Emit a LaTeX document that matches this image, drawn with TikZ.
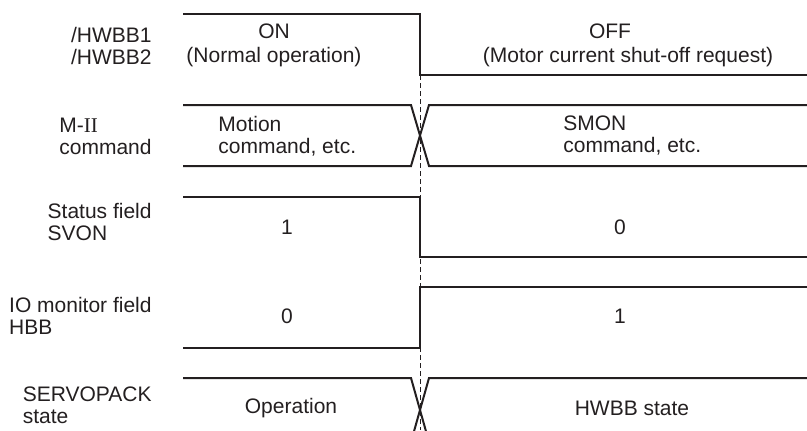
\documentclass[tikz,border=0pt]{standalone}
\usepackage{fontspec}
\setmainfont{Liberation Sans}
\newfontfamily\romanfont{Liberation Serif}
\definecolor{ink}{HTML}{231F20}

\begin{document}
\begin{tikzpicture}[
    x=0.5pt, y=-0.5pt,
    sig/.style={draw=ink, line width=1pt, line join=miter},
    guide/.style={draw=ink, line width=0.5pt, dash pattern=on 2.5pt off 1.5pt},
    siglabel/.style={anchor=east, align=left, inner sep=0pt, text=ink, font=\fontsize{10.5}{11}\selectfont},
    sigtext/.style={inner sep=0pt, text=ink, font=\fontsize{10.5}{11}\selectfont}
]
\useasboundingbox (0,0) rectangle (807,430);
\clip (0,0) rectangle (807,430);

% Transition guide
\coordinate (gtop) at (420,75);
\coordinate (gbot) at (420,430);
\draw[guide] (gtop) -- (gbot);

% /HWBB1 /HWBB2
\node[siglabel] (hwbb) at (152,46) {/HWBB1\\/HWBB2};
\draw[sig] (183,14) -- (420,14) -- (420,75) -- (807,75);
\node[sigtext, align=center] (on) at (274,45) {ON\\[1pt](Normal operation)};
\node[sigtext] (off) at (610,31) {OFF};
\node[sigtext] (offreq) at (628,57) {(Motor current shut-off request)};

% M-II command
\node[siglabel] (cmd) at (152,136) {M-{\romanfont II}\\command};
\draw[sig] (183,105) -- (411,105) -- (429,166) -- (807,166);
\draw[sig] (183,166) -- (411,166) -- (429,105) -- (807,105);
\node[sigtext, anchor=west, align=left] (motion) at (218,136) {Motion\\command, etc.};
\node[sigtext, anchor=west, align=left] (smon) at (563,136) {SMON\\command, etc.};

% Status field SVON
\node[siglabel] (svon) at (152,222) {Status field\\SVON};
\draw[sig] (183,197) -- (420,197) -- (420,257) -- (807,257);
\node[sigtext] (svon1) at (287,227) {1};
\node[sigtext] (svon0) at (620,227) {0};

% IO monitor field HBB
\node[siglabel] (hbb) at (152,316) {IO monitor field\\HBB};
\draw[sig] (183,348) -- (420,348) -- (420,287) -- (807,287);
\node[sigtext] (hbb0) at (287,316) {0};
\node[sigtext] (hbb1) at (620,316) {1};

% SERVOPACK state
\node[siglabel] (servo) at (152,405) {SERVOPACK\\state};
\draw[sig] (183,378) -- (411,378) -- (429,442);
\draw[sig] (411,442) -- (429,378) -- (807,378);
\node[sigtext] (oper) at (291,408) {Operation};
\node[sigtext] (hwbbst) at (632,408) {HWBB state};

\end{tikzpicture}
\end{document}
